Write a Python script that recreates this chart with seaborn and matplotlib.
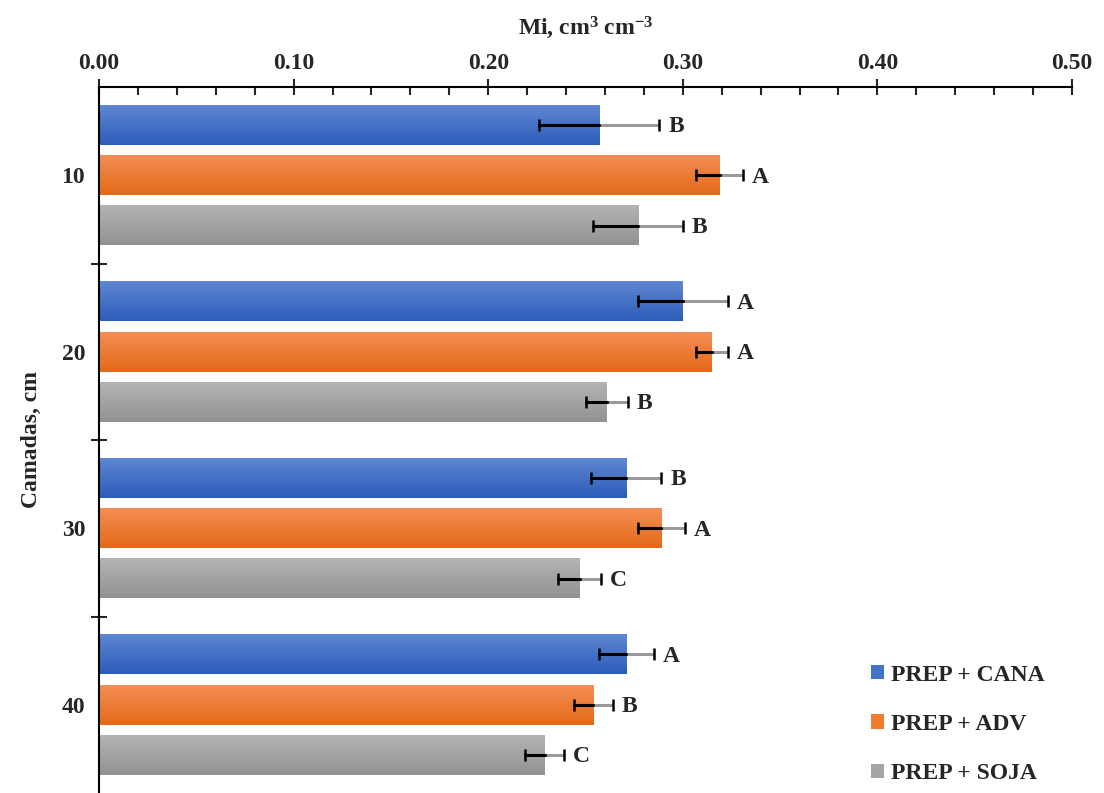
import numpy as np
import pandas as pd
import seaborn as sns
import matplotlib.pyplot as plt
from matplotlib.patches import Patch
from matplotlib.colors import to_rgb

# dados
camadas = ['10', '20', '30', '40']
tratamentos = ['PREP + CANA', 'PREP + ADV', 'PREP + SOJA']
mi_cana = [0.257, 0.300, 0.271, 0.271]
mi_adv = [0.319, 0.315, 0.289, 0.254]
mi_soja = [0.277, 0.261, 0.247, 0.229]
err_cana = [0.031, 0.023, 0.018, 0.014]
err_adv = [0.012, 0.008, 0.012, 0.010]
err_soja = [0.023, 0.011, 0.011, 0.010]
let_cana = ['B', 'A', 'B', 'A']
let_adv = ['A', 'A', 'A', 'B']
let_soja = ['B', 'B', 'C', 'C']

valores = [mi_cana, mi_adv, mi_soja]
erros = [err_cana, err_adv, err_soja]
letras = [let_cana, let_adv, let_soja]

cores = ['#4472C4', '#F27C2E', '#A5A5A5']
grad = [('#5F87D2', '#2C5DBA'), ('#F38E55', '#E56A18'), ('#B3B3B3', '#939393')]

df = pd.DataFrame({
    'Camada': camadas * 3,
    'Mi': mi_cana + mi_adv + mi_soja,
    'Trat': np.repeat(tratamentos, len(camadas)),
})

sns.set_style('white')
plt.rcParams['font.family'] = ['Liberation Serif', 'DejaVu Serif']
plt.rcParams['font.weight'] = 'bold'
plt.rcParams['mathtext.default'] = 'regular'

fig = plt.figure(figsize=(11.04, 7.93), dpi=100)
ax = fig.add_axes([99 / 1104, 0.0, (1072 - 99) / 1104, 1 - 87 / 793])

sns.barplot(data=df, x='Mi', y='Camada', hue='Trat', orient='h',
            order=camadas, hue_order=tratamentos, palette=cores,
            width=0.855, gap=0.21, errorbar=None, legend=False, ax=ax)

bar_conts = list(ax.containers)

# gradiente nas barras + barras de erro + letras
for i, cont in enumerate(bar_conts):
    c1 = np.array(to_rgb(grad[i][0]))
    c2 = np.array(to_rgb(grad[i][1]))
    g = np.linspace(0, 1, 50)[:, None, None]
    img = c1 * (1 - g) + c2 * g
    for j, bar in enumerate(cont):
        x0 = bar.get_x()
        w = bar.get_width()
        y0 = bar.get_y()
        h = bar.get_height()
        ax.imshow(img, extent=(x0, x0 + w, y0 + h, y0), origin='upper',
                  aspect='auto', zorder=bar.get_zorder() + 0.1)
        yc = y0 + h / 2
        v = valores[i][j]
        e = erros[i][j]
        _, caps, _ = ax.errorbar(v, yc, xerr=e, fmt='none', ecolor='#9A9A9A',
                                 elinewidth=2.2, capsize=4.5, capthick=1.8, zorder=5)
        for c in caps:
            c.set_markeredgecolor('black')
            c.set_zorder(7)
        ax.plot([v - e, v], [yc, yc], color='black', lw=2.2, zorder=6)
        ax.text(v + e + 0.0045, yc + 0.01, letras[i][j], ha='left', va='center',
                fontsize=17, fontweight='bold', zorder=7)

ax.set_xlim(0, 0.5)
ax.set_ylim(3.5, -0.5)

ax.xaxis.tick_top()
ax.xaxis.set_label_position('top')
ax.set_xticks(np.arange(0, 0.51, 0.1))
ax.set_xticklabels([f'{t:.2f}' for t in np.arange(0, 0.51, 0.1)])
ax.set_xticks(np.arange(0, 0.51, 0.02), minor=True)
ax.tick_params(axis='x', which='major', direction='inout', length=11, width=1.5,
               labelsize=17, pad=4, top=True, bottom=False)
ax.tick_params(axis='x', which='minor', direction='in', length=6, width=1.5,
               top=True, bottom=False)

ax.set_yticks(range(len(camadas)))
ax.set_yticklabels(camadas)
ax.set_yticks([0.5, 1.5, 2.5], minor=True)
ax.tick_params(axis='y', which='major', length=0, labelsize=17, pad=10)
ax.tick_params(axis='y', which='minor', direction='inout', length=11, width=1.5, left=True)

for s in ['right', 'bottom']:
    ax.spines[s].set_visible(False)
for s in ['left', 'top']:
    ax.spines[s].set_linewidth(1.5)
    ax.spines[s].set_color('black')

ax.set_xlabel('Mi, cm$^{3}$ cm$^{-3}$', fontsize=17, fontweight='bold', labelpad=13)
ax.set_ylabel('Camadas, cm', fontsize=17, fontweight='bold', labelpad=14)

handles = [Patch(facecolor=c, edgecolor='none') for c in cores]
fig.legend(handles, tratamentos, loc='lower left', bbox_to_anchor=(0.789, 0.011),
           frameon=False, fontsize=17, handlelength=0.55, handleheight=0.55,
           handletextpad=0.3, labelspacing=1.2, borderpad=0, borderaxespad=0)

fig.savefig('out.png', dpi=100)
